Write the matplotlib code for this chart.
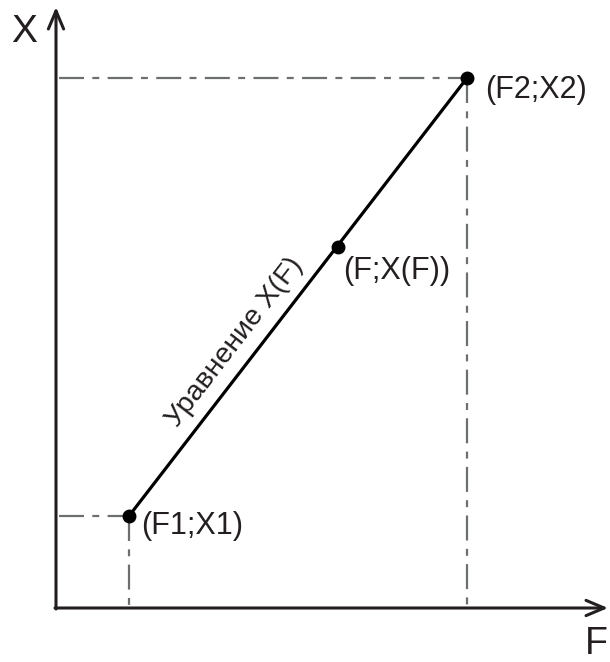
import numpy as np
import matplotlib.pyplot as plt

plt.rcParams['font.family'] = ['Liberation Sans', 'DejaVu Sans']
plt.rcParams['lines.scale_dashes'] = False

# points on the line X(F)
F_vals = [1.46, 5.64, 8.22]
X_vals = [1.84, 7.22, 10.6]
point_labels = ['(F1;X1)', '(F;X(F))', '(F2;X2)']
label_offsets = [(9, -7), (4, -17), (13, -9)]  # points
line_label = 'Уравнение X(F)'
x_axis_label = 'F'
y_axis_label = 'X'

x_max, y_max = 11.04, 12.02
dark = '#231f20'
grey = '#6d6e70'
dash = (0, (18, 6, 5, 6))

fig = plt.figure(figsize=(6.10, 6.62), dpi=100)
ax = fig.add_axes([56 / 610, 54 / 662, 552 / 610, 601 / 662])
ax.set_xlim(0, x_max)
ax.set_ylim(0, y_max)
ax.axis('off')

# axes with arrows
arrow = dict(arrowstyle='->,head_length=1.3,head_width=0.55', lw=2.2, color=dark,
             shrinkA=0, shrinkB=0)
ax.annotate('', xy=(x_max, 0), xytext=(-0.02, 0), arrowprops=arrow, annotation_clip=False)
ax.annotate('', xy=(0, y_max), xytext=(0, -0.02), arrowprops=arrow, annotation_clip=False)
ax.text(-0.64, 11.52, y_axis_label, fontsize=28, ha='center', va='center', color=dark)
ax.text(10.8, -0.72, x_axis_label, fontsize=27, ha='center', va='center', color=dark)

# projection lines for the end points
for f, x in [(F_vals[0], X_vals[0]), (F_vals[-1], X_vals[-1])]:
    ax.plot([0.06, f], [x, x], color=grey, lw=1.6, linestyle=dash, clip_on=False)
    ax.plot([f, f], [x, 0.05], color=grey, lw=1.6, linestyle=dash, clip_on=False)

# the line and its points
ax.plot([F_vals[0], F_vals[-1]], [X_vals[0], X_vals[-1]], color='black', lw=2.3,
        solid_capstyle='round', clip_on=False)
ax.plot(F_vals, X_vals, 'o', color='black', ms=9, clip_on=False)

for f, x, lab, off in zip(F_vals, X_vals, point_labels, label_offsets):
    ax.annotate(lab, xy=(f, x), xytext=off, textcoords='offset points',
                fontsize=22, ha='left', va='center', color=dark)

# rotated label along the line
t = 0.365
lf = F_vals[0] + t * (F_vals[-1] - F_vals[0])
lx = X_vals[0] + t * (X_vals[-1] - X_vals[0])
angle = np.degrees(np.arctan2(X_vals[-1] - X_vals[0], F_vals[-1] - F_vals[0]))
ax.annotate(line_label, xy=(lf, lx), xytext=(-12.5, 9.7), textcoords='offset points',
            fontsize=20.5, ha='center', va='center', rotation=angle,
            rotation_mode='anchor', color=dark)

fig.savefig('out.png', dpi=100)
